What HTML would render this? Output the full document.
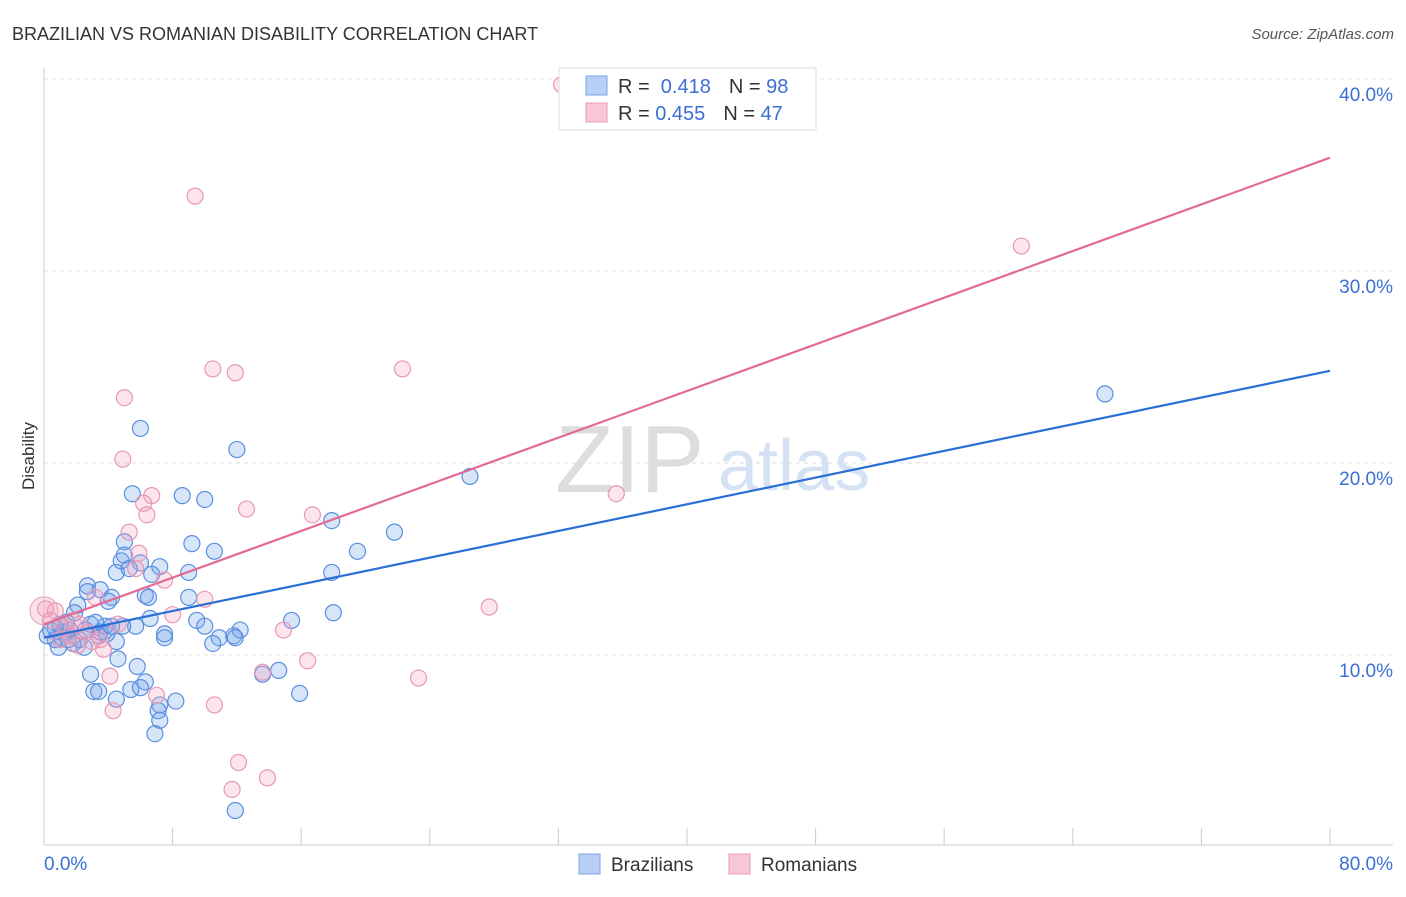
<!DOCTYPE html>
<html><head><meta charset="utf-8"><style>
body{margin:0;background:#fff;font-family:"Liberation Sans",sans-serif}
svg text{font-family:"Liberation Sans",sans-serif}
</style></head><body>
<svg id="chart" width="1406" height="892" viewBox="0 0 1406 892">
<text x="12" y="40" font-size="18" fill="#333">BRAZILIAN VS ROMANIAN DISABILITY CORRELATION CHART</text>
<text x="1394" y="39" font-size="15" fill="#555" text-anchor="end" font-style="italic">Source: ZipAtlas.com</text>
<g>
<text x="555" y="492" font-size="96" fill="#ddd" font-family="Liberation Serif">ZIP</text>
<text x="718" y="490" font-size="72" fill="#d4e2f4">atlas</text>
</g>
<g id="grid"></g>
<g id="axes"></g>
<g id="pts"></g>
<g id="lines"></g>
<g>
<rect x="559" y="68" width="257" height="62" fill="#fff" stroke="#ddd"/>
<rect x="586" y="76" width="21" height="19" fill="#b8d0f5" stroke="#7aa3e8"/>
<rect x="586" y="103" width="21" height="19" fill="#f8c8d8" stroke="#eb9ab5"/>
<text x="618" y="93" font-size="20" fill="#333">R = <tspan fill="#3b6fd4">&#160;0.418</tspan><tspan dx="18">N = </tspan><tspan fill="#3b6fd4">98</tspan></text>
<text x="618" y="120" font-size="20" fill="#333">R = <tspan fill="#3b6fd4">0.455</tspan><tspan dx="18">N = </tspan><tspan fill="#3b6fd4">47</tspan></text>
</g>
<g>
<rect x="579" y="854" width="21" height="20" fill="#b8d0f5" stroke="#7aa3e8"/>
<text x="611" y="871" font-size="19" fill="#333">Brazilians</text>
<rect x="729" y="854" width="21" height="20" fill="#f8c8d8" stroke="#eb9ab5"/>
<text x="761" y="871" font-size="19" fill="#333">Romanians</text>
</g>
<text transform="translate(34,456) rotate(-90)" font-size="17" fill="#333" text-anchor="middle">Disability</text>
</svg>
<script>
const bx=[6.0,12.0,5.5,8.6,10.0,26.5,66.0,21.8,17.9,19.5,10.6,9.2,5.0,5.0,6.0,7.2,4.8,4.5,5.3,6.7,9.0,17.9,2.7,2.7,3.5,4.2,6.3,6.5,9.0,4.0,18.0,15.4,2.1,1.9,6.6,9.5,5.7,4.9,3.8,1.2,1.6,7.5,7.5,10.0,12.2,11.8,10.9,11.9,10.5,4.5,3.4,2.5,2.2,0.7,0.9,1.8,0.4,0.2,4.6,5.8,2.9,6.3,14.6,13.6,3.1,3.4,5.4,6.0,15.9,4.5,8.2,7.2,7.1,7.2,6.9,11.9,1.0,1.4,2.9,0.7,1.1,1.5,3.5,3.9,4.2,2.6,3.2];
const by=[21.8,20.7,18.4,18.3,18.1,19.3,23.6,16.4,17.0,15.4,15.4,15.8,15.9,15.2,14.8,14.6,14.9,14.3,14.5,14.2,14.3,14.3,13.6,13.3,13.4,13.0,13.1,13.0,13.0,12.8,12.2,11.8,12.6,12.2,11.9,11.8,11.5,11.5,11.5,11.2,11.3,11.1,10.9,11.5,11.3,11.0,10.9,10.9,10.6,10.7,11.0,10.4,10.8,10.8,10.4,10.6,11.3,11.0,9.8,9.4,9.0,8.6,9.2,9.0,8.1,8.1,8.2,8.3,8.0,7.7,7.6,7.4,7.1,6.6,5.9,1.9,11.6,11.7,11.6,11.4,10.9,10.8,11.2,11.1,11.5,11.3,11.7];
const px=[32.2,9.4,60.8,10.5,11.9,22.3,5.0,4.9,6.7,6.2,6.4,12.6,16.7,35.6,5.3,5.9,5.7,7.5,10.0,8.0,27.7,14.9,3.2,1.8,0.7,0.1,4.6,3.5,3.7,16.4,13.6,23.3,4.1,4.3,10.6,7.0,12.1,13.9,11.7,2.7,1.3,2.2,1.0,1.6,3.0,0.4,2.1];
const py=[39.7,33.9,31.3,24.9,24.7,24.9,23.4,20.2,18.3,17.9,17.3,17.6,17.3,18.4,16.4,15.3,14.5,13.9,12.9,12.1,12.5,11.3,13.0,11.8,12.3,12.4,11.6,10.8,10.3,9.7,9.1,8.8,8.9,7.1,7.4,7.9,4.4,3.6,3.0,11.2,11.4,11.6,10.8,11.0,10.7,11.8,10.5];
const blueLine=[10.9,24.8];
const pinkLine=[11.6,35.9];
const yTicks=[10,20,30,40];
const yTickLabels=["10.0%","20.0%","30.0%","40.0%"];
const xTicks=[0,8,16,24,32,40,48,56,64,72,80];
const X=v=>44+v*16.075, Y=v=>847-v*19.2;
const NS="http://www.w3.org/2000/svg";
function mk(t,a,p){const e=document.createElementNS(NS,t);for(const k in a)e.setAttribute(k,a[k]);p.appendChild(e);return e;}
const grid=document.getElementById('grid'),axes=document.getElementById('axes'),pts=document.getElementById('pts'),lines=document.getElementById('lines');
yTicks.forEach((t,i)=>{
 const l=mk('line',{x1:44,x2:1393,y1:Y(t),y2:Y(t),stroke:'#ddd','stroke-dasharray':'4,4'},grid);
 
 
 const tx=mk('text',{x:1393,y:Y(t)+22,'font-size':19,fill:'#3b6fd4','text-anchor':'end'},axes);
 tx.textContent=yTickLabels[i];
 
 
});
const ya=mk('line',{x1:44,x2:44,y1:68,y2:845,stroke:'#ccc'},axes);


const xa=mk('line',{x1:44,x2:1393,y1:845,y2:845,stroke:'#ccc'},axes);


xTicks.forEach(t=>{
 const l=mk('line',{x1:X(t),x2:X(t),y1:828,y2:845,stroke:'#ccc'},axes);
 
 
});
const x0=mk('text',{x:44,y:870,'font-size':19,fill:'#3b6fd4'},axes);x0.textContent='0.0%';


const x1=mk('text',{x:1393,y:870,'font-size':19,fill:'#3b6fd4','text-anchor':'end'},axes);x1.textContent='80.0%';


const big=mk('circle',{cx:X(0),cy:Y(12.3),r:14,fill:'rgba(240,160,190,0.3)',stroke:'#e8a0b8'},pts);


bx.forEach((v,i)=>{
 const c=mk('circle',{cx:X(v),cy:Y(by[i]),r:8,fill:'rgba(110,160,235,0.28)',stroke:'#5a8fe0','stroke-width':1.2},pts);
 
 
});
px.forEach((v,i)=>{
 const c=mk('circle',{cx:X(v),cy:Y(py[i]),r:8,fill:'rgba(245,160,190,0.28)',stroke:'#e898b4','stroke-width':1.2},pts);
 
 
});
const bl=mk('line',{x1:X(0),y1:Y(blueLine[0]),x2:X(80),y2:Y(blueLine[1]),stroke:'#2a6fd6','stroke-width':2.2},lines);


const pl=mk('line',{x1:X(0),y1:Y(pinkLine[0]),x2:X(80),y2:Y(pinkLine[1]),stroke:'#e36a95','stroke-width':2.2},lines);


</script>
</body></html>
